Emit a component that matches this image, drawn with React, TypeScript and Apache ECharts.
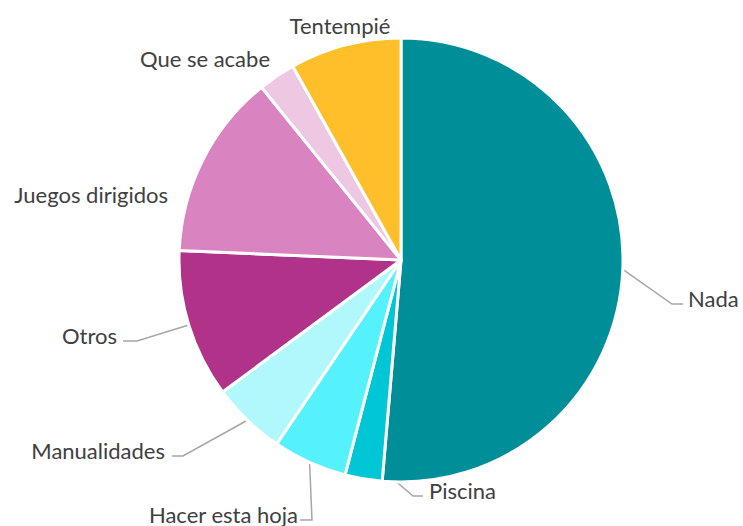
import React, { useEffect, useRef } from "react";
import * as echarts from "echarts";

const categories = [
  "Nada",
  "Piscina",
  "Hacer esta hoja",
  "Manualidades",
  "Otros",
  "Juegos dirigidos",
  "Que se acabe",
  "Tentempié",
];
const values = [19, 1, 2, 2, 4, 5, 1, 3];
const colors = [
  "#008F99",
  "#00C6D5",
  "#55F1FD",
  "#B1F8FC",
  "#B03389",
  "#D983C0",
  "#EEC7E3",
  "#FFBF2B",
];

// label placement (style only)
const labelPos: {
  x: number;
  y: number;
  align: string;
  line: boolean;
  gap?: number;
  elbow?: number;
  start?: [number, number];
}[] = [
  { x: 688, y: 298, align: "left", line: true, gap: 5, elbow: 11 },
  { x: 429, y: 490, align: "left", line: true, gap: 6, elbow: 10, start: [184.9, 211] },
  { x: 298, y: 514, align: "right", line: true, gap: 2, elbow: 12 },
  { x: 165, y: 450, align: "right", line: true, gap: 7, elbow: 11 },
  { x: 117, y: 335, align: "right", line: true, gap: 6, elbow: 14 },
  { x: 168, y: 194, align: "right", line: false },
  { x: 270, y: 58, align: "right", line: false },
  { x: 340, y: 25, align: "center", line: false },
];

const CX = 401;
const CY = 260;
const R = 222;

export default function App() {
  const ref = useRef<HTMLDivElement>(null);
  useEffect(() => {
    if (!ref.current) return;
    const chart = echarts.init(ref.current, undefined, { renderer: "svg" });
    const total = values.reduce((a, b) => a + b, 0);
    const mids: number[] = [];
    let acc = 0;
    values.forEach((v) => {
      mids.push(((acc + v / 2) / total) * 2 * Math.PI);
      acc += v;
    });
    chart.setOption({
      animation: false,
      backgroundColor: "#ffffff",
      series: [
        {
          type: "pie",
          center: [CX, CY],
          radius: [0, R],
          startAngle: 90,
          clockwise: true,
          avoidLabelOverlap: false,
          itemStyle: { borderColor: "#ffffff", borderWidth: 3 },
          label: {
            show: true,
            position: "outside",
            formatter: "{b}",
            color: "#404040",
            fontSize: 22,
            fontFamily: "Lato, 'Open Sans', sans-serif",
          },
          labelLine: {
            show: true,
            lineStyle: { color: "#A6A6A6", width: 1.5 },
          },
          labelLayout: (params: any) => {
            const i = params.dataIndex;
            const p = labelPos[i];
            const res: any = {
              x: p.x,
              y: p.y,
              align: p.align,
              verticalAlign: "middle",
            };
            if (p.line) {
              let a = mids[i];
              let r = R;
              if (p.start) {
                a = (p.start[0] * Math.PI) / 180;
                r = p.start[1];
              }
              const sx = CX + r * Math.sin(a);
              const sy = CY - r * Math.cos(a);
              const dir = p.align === "left" ? -1 : 1;
              const ex = p.x + dir * (p.gap || 5);
              const ey = p.y + 6;
              const mx = ex + dir * (p.elbow || 11);
              res.labelLinePoints = [
                [sx, sy],
                [mx, ey],
                [ex, ey],
              ];
            }
            return res;
          },
          data: categories.map((name, i) => ({
            name,
            value: values[i],
            itemStyle: { color: colors[i] },
            labelLine: { show: labelPos[i].line },
          })),
        },
      ],
    });
    return () => chart.dispose();
  }, []);
  return (
    <div
      ref={ref}
      style={{ position: "fixed", left: 0, top: 0, width: 743, height: 526 }}
    />
  );
}
